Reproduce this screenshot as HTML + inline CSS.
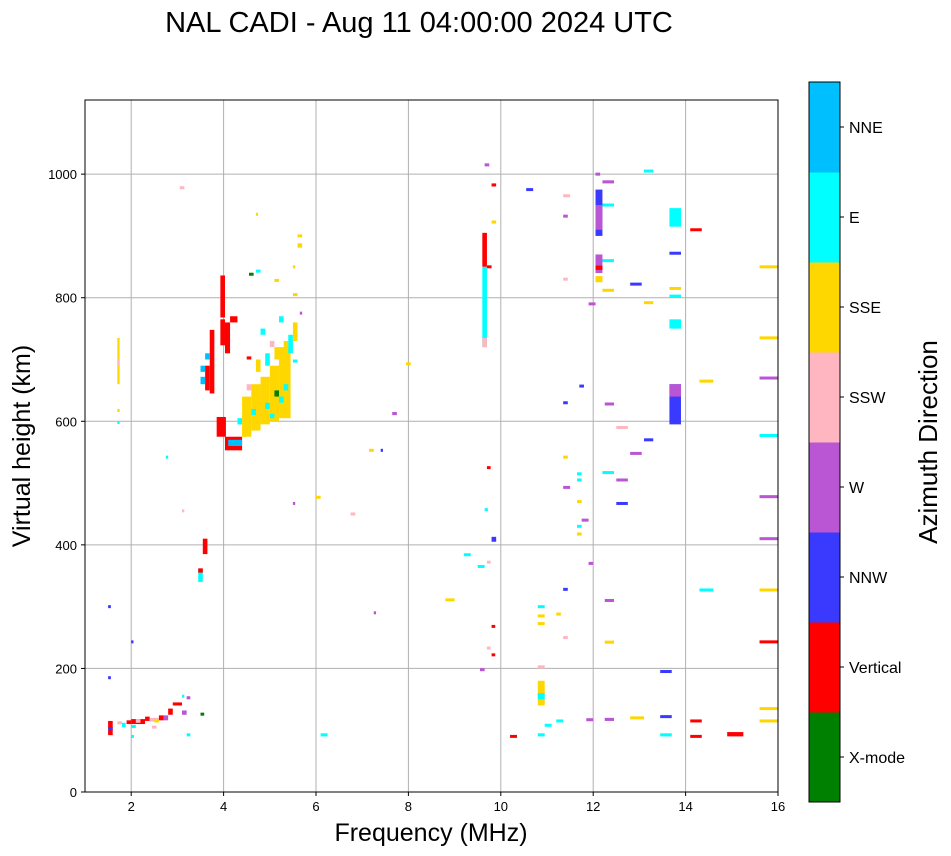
<!DOCTYPE html>
<html><head><meta charset="utf-8"><style>
body{margin:0;background:#fff;}
svg{display:block;font-family:"Liberation Sans",sans-serif;}
</style></head><body>
<svg id="chart" width="951" height="856">
<text x="419" y="32" font-size="29" text-anchor="middle">NAL CADI - Aug 11 04:00:00 2024 UTC</text>
<g id="grid"></g>
<g id="marks"></g>
<rect x="85" y="100" width="693" height="692" fill="none" stroke="#000" stroke-width="1"/>
<g id="axes"></g>
<text x="431" y="841" font-size="25" text-anchor="middle">Frequency (MHz)</text>
<text transform="translate(30,446) rotate(-90)" font-size="25" text-anchor="middle">Virtual height (km)</text>
<g id="cbar"></g>
<text transform="translate(937,442) rotate(-90)" font-size="26" text-anchor="middle">Azimuth Direction</text>
</svg>
<script>
const xTicks=[2,4,6,8,10,12,14,16];
const yTicks=[0,200,400,600,800,1000];
const dirNames=["X-mode","Vertical","NNW","W","SSW","SSE","E","NNE"];
const dirColors=["#008000","#ff0000","#3a3aff","#ba55d3","#ffb6c1","#ffd700","#00ffff","#00bfff"];
// each mark: [fLow,fHigh,hLow,hHigh,dirIndex]
const marks=[
[1.5,1.6,92,115,1],[1.5,1.6,100,105,2],[1.7,1.8,108,112,4],[1.8,1.88,105,112,6],[1.9,2.0,110,116,1],
[2.0,2.3,110,118,1],[2.0,2.1,102,106,6],[2.1,2.2,112,118,4],[2.3,2.4,115,122,1],[2.4,2.6,114,120,4],
[2.6,2.7,116,124,1],[2.7,2.8,116,124,3],[2.8,2.9,125,135,1],[2.9,3.1,140,145,1],[3.1,3.2,125,132,3],
[3.2,3.28,150,155,3],[3.5,3.58,122,126,0],[1.5,1.56,185,185,2],[1.5,1.56,300,300,2],[2.0,2.05,243,243,2],
[2.0,2.06,90,90,6],[3.2,3.28,90,95,6],[3.1,3.15,155,155,6],[2.45,2.55,105,105,4],[2.5,2.6,112,115,5],
[1.7,1.75,660,735,5],[1.7,1.75,615,620,5],[1.7,1.75,598,598,6],[1.7,1.75,690,700,4],
[3.45,3.55,340,360,6],[3.45,3.55,355,362,1],[3.55,3.65,385,410,1],[2.75,2.8,542,542,6],[3.05,3.15,978,978,4],[3.1,3.15,455,455,4],
[3.93,4.03,768,836,1],[3.93,4.03,723,765,1],[4.03,4.14,710,760,1],[3.7,3.8,645,748,1],[3.6,3.7,650,690,1],
[3.5,3.6,660,672,7],[3.5,3.6,680,690,7],[3.6,3.7,700,710,7],[4.14,4.3,760,770,1],[3.85,4.05,575,607,1],
[4.03,4.4,553,575,1],[4.1,4.4,560,570,7],
[4.4,4.6,575,640,5],[4.6,4.8,585,660,5],[4.8,5.0,595,672,5],[5.0,5.2,600,690,5],[5.2,5.45,605,720,5],
[4.6,4.7,610,620,6],[4.9,5.0,620,630,6],[5.0,5.1,605,612,6],[5.2,5.3,630,640,6],[5.3,5.4,650,660,6],
[4.5,4.6,650,660,4],[5.1,5.2,640,650,0],[4.7,4.8,680,700,5],[4.9,5.0,690,710,6],[5.1,5.2,700,720,5],
[5.3,5.4,690,730,5],[5.4,5.5,710,740,6],[5.5,5.6,730,760,5],[4.8,4.9,740,750,6],[5.0,5.1,720,730,4],
[5.2,5.3,760,770,6],[5.5,5.6,695,700,6],[4.5,4.6,700,705,1],[4.4,4.5,575,590,5],[4.3,4.4,595,605,6],
[4.7,4.72,935,935,5],[4.7,4.8,843,843,6],[4.55,4.65,838,838,0],[5.1,5.2,828,828,5],[5.6,5.7,897,900,5],
[5.6,5.7,881,888,5],[5.5,5.55,850,850,5],[5.65,5.7,775,775,3],[5.5,5.6,805,805,5],[5.5,5.55,467,467,3],
[6.0,6.1,477,477,5],[6.1,6.25,90,95,6],[6.75,6.85,450,450,4],[7.15,7.25,553,553,5],[7.4,7.45,553,553,2],
[7.25,7.3,290,290,3],[7.65,7.75,610,615,3],[7.95,8.05,690,693,5],[8.8,9.0,311,311,5],[9.2,9.35,384,384,6],
[9.5,9.65,365,365,6],[9.55,9.65,198,198,3],[9.65,9.75,1015,1015,3],[9.6,9.7,850,905,1],[9.6,9.7,720,850,6],
[9.6,9.7,720,735,4],[9.8,9.9,980,985,1],[9.8,9.9,920,925,5],[9.7,9.8,850,850,1],[9.7,9.78,525,525,1],
[9.65,9.72,457,457,6],[9.8,9.9,405,413,2],[9.8,9.88,268,268,1],[9.8,9.88,222,222,1],[9.7,9.78,233,233,4],
[9.7,9.78,372,372,4],[10.2,10.35,90,90,1],[10.55,10.7,975,975,2],
[10.8,10.95,140,180,5],[10.8,10.95,150,160,6],[10.8,10.95,200,205,4],[10.8,10.95,270,275,5],[10.8,10.95,282,285,5],
[10.8,10.95,296,300,6],[10.8,10.95,90,95,6],[10.95,11.1,108,108,6],[11.2,11.35,115,115,6],[11.2,11.3,288,288,5],
[11.35,11.45,250,250,4],[11.35,11.45,328,328,2],[11.35,11.5,490,493,3],[11.35,11.45,542,542,5],[11.35,11.45,630,630,2],
[11.35,11.45,830,830,4],[11.35,11.45,932,932,3],[11.35,11.5,965,965,4],[11.65,11.75,415,420,5],[11.65,11.75,430,430,6],
[11.65,11.75,470,470,5],[11.65,11.75,505,505,6],[11.65,11.75,515,515,6],[11.7,11.8,657,657,2],[11.75,11.9,440,440,3],
[11.9,12.0,370,370,3],[11.85,12.0,117,117,3],[11.9,12.05,790,790,3],
[12.05,12.2,900,975,2],[12.05,12.2,910,950,3],[12.05,12.2,840,870,3],[12.05,12.2,845,852,1],[12.05,12.2,825,835,5],
[12.05,12.15,1000,1000,3],[12.2,12.45,985,990,3],[12.2,12.45,950,950,6],[12.2,12.45,860,860,6],[12.2,12.45,812,812,5],
[12.25,12.45,628,628,3],[12.2,12.45,517,517,6],[12.25,12.45,310,310,3],[12.25,12.45,240,245,5],[12.25,12.45,115,120,3],
[12.5,12.75,590,590,4],[12.5,12.75,505,505,3],[12.5,12.75,467,467,2],[12.8,13.05,548,548,3],[12.8,13.1,120,120,5],
[12.8,13.05,822,822,2],[13.1,13.3,1005,1005,6],[13.1,13.3,792,792,5],[13.1,13.3,570,570,2],
[13.45,13.7,195,195,2],[13.45,13.7,122,122,2],[13.45,13.7,90,95,6],[13.65,13.9,915,945,6],[13.65,13.9,868,872,2],
[13.65,13.9,815,815,5],[13.65,13.9,800,805,6],[13.65,13.9,750,765,6],[13.65,13.9,595,660,2],[13.65,13.9,640,660,3],
[14.1,14.35,910,910,1],[14.1,14.35,115,115,1],[14.1,14.35,90,90,1],[14.3,14.6,665,665,5],[14.3,14.6,327,327,6],
[14.9,15.25,90,97,1],[15.6,16.0,850,850,5],[15.6,16.0,735,735,5],[15.6,16.0,670,670,3],[15.6,16.0,577,577,6],
[15.6,16.0,478,478,3],[15.6,16.0,410,410,3],[15.6,16.0,327,327,5],[15.6,16.0,243,243,1],[15.6,16.0,135,135,5],[15.6,16.0,115,115,5]
];
const NS="http://www.w3.org/2000/svg";
const X0=85,XW=693,Y0=792,YH=692,FMIN=1,FMAX=16,HMAX=1120;
function xs(f){return X0+(f-FMIN)/(FMAX-FMIN)*XW;}
function ys(h){return Y0-h/HMAX*YH;}
const grid=document.getElementById('grid'),axes=document.getElementById('axes'),mg=document.getElementById('marks'),cb=document.getElementById('cbar');
function mk(t,a,p){const e=document.createElementNS(NS,t);for(const k in a)e.setAttribute(k,a[k]);p.appendChild(e);return e;}
xTicks.forEach(v=>{
 const x=xs(v);
 const g=mk('line',{x1:x,x2:x,y1:100,y2:792,stroke:'#b0b0b0','stroke-width':1},grid);
 
 
 mk('line',{x1:x,x2:x,y1:792,y2:796,stroke:'#000'},axes);
 const t=mk('text',{x:x,y:811,'font-size':13,'text-anchor':'middle'},axes);t.textContent=v;
 
 
});
yTicks.forEach(v=>{
 const y=ys(v);
 const g=mk('line',{x1:85,x2:778,y1:y,y2:y,stroke:'#b0b0b0','stroke-width':1},grid);
 
 
 mk('line',{x1:81,x2:85,y1:y,y2:y,stroke:'#000'},axes);
 const t=mk('text',{x:77,y:y+5,'font-size':13,'text-anchor':'end'},axes);t.textContent=v;
 
 
});
marks.forEach(m=>{
 const x1=xs(m[0]),x2=xs(m[1]),yTop=ys(m[3]),yBot=ys(m[2]);
 const h=Math.max(3,yBot-yTop);
 const r=mk('rect',{x:x1,y:yTop-(h===3?1.5:0),width:Math.max(2,x2-x1),height:h,fill:dirColors[m[4]]},mg);
 
 
});
const CBX=809,CBW=31,CBT=82,CBH=720,seg=CBH/dirNames.length;
dirNames.forEach((n,i)=>{
 const y=CBT+CBH-(i+1)*seg;
 const r=mk('rect',{x:CBX,y:y,width:CBW,height:seg+0.5,fill:dirColors[i]},cb);
 
 
 mk('line',{x1:CBX+CBW,x2:CBX+CBW+4,y1:y+seg/2,y2:y+seg/2,stroke:'#000'},cb);
 const t=mk('text',{x:849,y:y+seg/2+6,'font-size':16},cb);t.textContent=n;
 
 
});
const fr=mk('rect',{x:CBX,y:CBT,width:CBW,height:CBH,fill:'none',stroke:'#000'},cb);


</script>
</body></html>
